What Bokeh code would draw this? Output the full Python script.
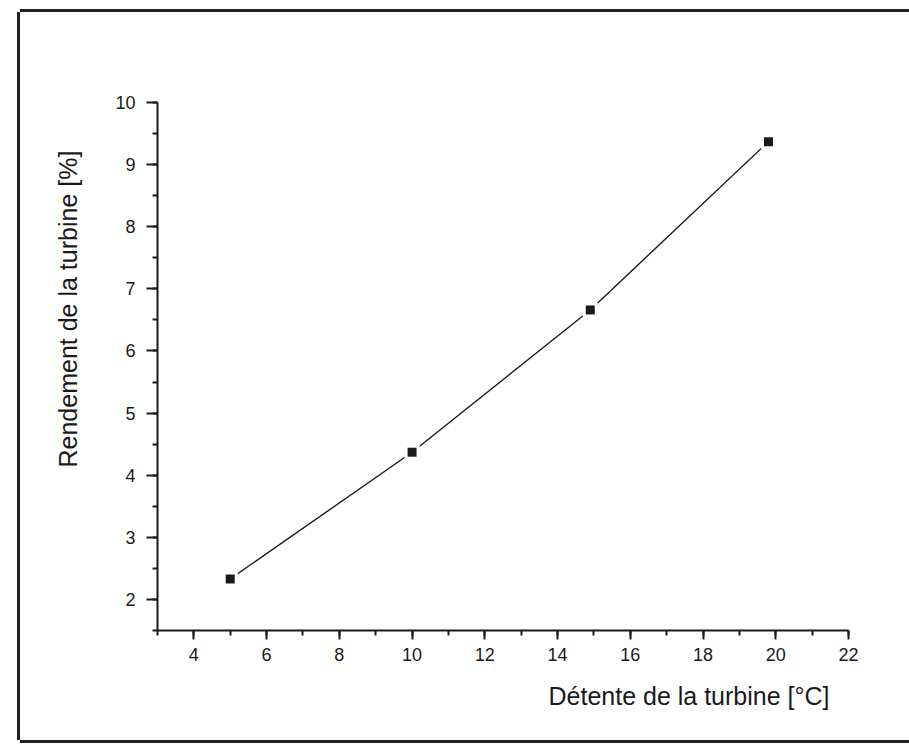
from bokeh.plotting import figure
from bokeh.models import Range1d, SingleIntervalTicker, Title
from bokeh.embed import file_html
from bokeh.resources import INLINE

# data
detente = [5.0, 10.0, 14.9, 19.8]
rendement = [2.33, 4.37, 6.66, 9.37]
x_label = "Détente de la turbine [°C]"
y_label = "Rendement de la turbine [%]"

FONT = "Liberation Sans"

p = figure(width=889, height=728, output_backend="svg", toolbar_location=None,
           x_range=Range1d(3, 22), y_range=Range1d(1.5, 10),
           min_border_left=137, min_border_right=61,
           min_border_top=90, min_border_bottom=110)
p.styles = {"margin-left": "20px", "margin-top": "12px",
            "box-shadow": "-3px 0 0 0 #222, 0 -3px 0 0 #222, 0 3px 0 0 #222"}
p.outline_line_color = None
p.xgrid.visible = False
p.ygrid.visible = False
p.background_fill_color = "white"
p.border_fill_color = "white"

p.xaxis.ticker = SingleIntervalTicker(interval=2, num_minor_ticks=2)
p.yaxis.ticker = SingleIntervalTicker(interval=1, num_minor_ticks=2)

for ax in (p.xaxis, p.yaxis):
    ax.axis_line_width = 2
    ax.axis_line_color = "#1a1a1a"
    ax.major_tick_line_width = 2
    ax.minor_tick_line_width = 2
    ax.major_tick_line_color = "#1a1a1a"
    ax.minor_tick_line_color = "#1a1a1a"
    ax.major_tick_in = 0
    ax.minor_tick_in = 0
    ax.major_label_text_font = FONT
    ax.major_label_text_font_size = "18px"
    ax.major_label_text_color = "#1a1a1a"
p.xaxis.major_tick_out = 9
p.xaxis.minor_tick_out = 5
p.yaxis.major_tick_out = 11
p.yaxis.minor_tick_out = 5
p.xaxis.major_label_standoff = 8
p.yaxis.major_label_standoff = 11

p.line(detente, rendement, line_color="#1a1a1a", line_width=1.4)
p.scatter(detente, rendement, marker="square", size=15, fill_color="white", line_color=None)
p.scatter(detente, rendement, marker="square", size=9, fill_color="#1a1a1a", line_color=None)

p.add_layout(Title(text=x_label, align="left", offset=391, standoff=33,
                   text_font=FONT, text_font_size="25px", text_font_style="normal",
                   text_color="#1a1a1a"), "below")
p.add_layout(Title(text=y_label, align="left", offset=163, standoff=62,
                   text_font=FONT, text_font_size="25px", text_font_style="normal",
                   text_color="#1a1a1a"), "left")

open("out.html", "w").write(file_html(p, INLINE))
